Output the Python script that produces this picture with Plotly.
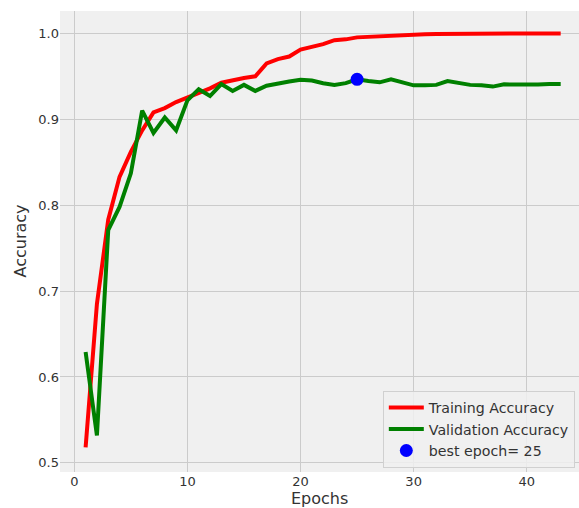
import plotly.graph_objects as go

# Per-epoch accuracy history
epochs = list(range(1, 44))
train_acc = [0.518, 0.685, 0.783, 0.833, 0.862, 0.887, 0.908, 0.913, 0.920, 0.925,
             0.931, 0.936, 0.9425, 0.9456, 0.948, 0.950, 0.965, 0.970, 0.973, 0.981,
             0.984, 0.9875, 0.992, 0.993, 0.9953, 0.996, 0.997, 0.998, 0.9985, 0.999,
             0.999, 0.9993, 0.9995, 0.9995, 0.9996, 0.9997, 0.9993, 0.9997, 0.9998, 0.9998,
             0.9999, 0.9999, 0.9998]
val_acc = [0.629, 0.532, 0.771, 0.798, 0.837, 0.910, 0.884, 0.902, 0.887, 0.922,
           0.935, 0.927, 0.941, 0.933, 0.940, 0.933, 0.939, 0.942, 0.944, 0.946,
           0.945, 0.942, 0.940, 0.942, 0.9465, 0.9445, 0.943, 0.9465, 0.9425, 0.9395,
           0.9395, 0.940, 0.9445, 0.9425, 0.940, 0.9395, 0.938, 0.9406, 0.9405, 0.940,
           0.9405, 0.941, 0.941]
best_epoch = 25
best_val = val_acc[best_epoch - 1]

x_ticks = [0, 10, 20, 30, 40]
y_ticks = [0.5, 0.6, 0.7, 0.8, 0.9, 1.0]

FONT = "DejaVu Sans"
TXT = "#333333"

fig = go.Figure()
fig.add_trace(go.Scatter(x=epochs, y=train_acc, mode="lines", name="Training Accuracy",
                         line=dict(color="red", width=4)))
fig.add_trace(go.Scatter(x=epochs, y=val_acc, mode="lines", name="Validation Accuracy",
                         line=dict(color="green", width=4)))
fig.add_trace(go.Scatter(x=[best_epoch], y=[best_val], mode="markers",
                         name=f"best epoch= {best_epoch}",
                         marker=dict(color="blue", size=13, line=dict(width=0))))

fig.update_layout(
    width=579, height=508,
    margin=dict(l=60, r=0, t=11, b=36),
    paper_bgcolor="white",
    plot_bgcolor="#f0f0f0",
    font=dict(family=FONT, size=13, color=TXT),
    showlegend=True,
    legend=dict(x=0.622, y=0.176, xanchor="left", yanchor="top",
                bgcolor="rgba(240,240,240,0.85)", bordercolor="#d0d0d0", borderwidth=1,
                itemwidth=35,
                font=dict(family=FONT, size=14.2, color=TXT), tracegroupgap=0),
    xaxis=dict(range=[-1.264, 44.62], tickvals=x_ticks, ticks="", showline=False,
               zeroline=False, gridcolor="#cbcbcb", gridwidth=1.3,
               tickfont=dict(family=FONT, size=13, color=TXT)),
    yaxis=dict(range=[0.4894, 1.026], tickvals=y_ticks, tickformat=".1f", ticks="",
               showline=False, zeroline=False, gridcolor="#cbcbcb", gridwidth=1.3,
               tickfont=dict(family=FONT, size=13, color=TXT)),
    annotations=[
        dict(text="Epochs", xref="paper", yref="paper", x=0.5, y=0, yshift=-38,
             xanchor="center", yanchor="bottom", showarrow=False,
             font=dict(family=FONT, size=16, color=TXT)),
        dict(text="Accuracy", xref="paper", yref="paper", x=0, y=0.5, xshift=-40,
             xanchor="center", yanchor="middle", textangle=-90, showarrow=False,
             font=dict(family=FONT, size=16, color=TXT)),
    ],
)

fig.write_html("out.html")
